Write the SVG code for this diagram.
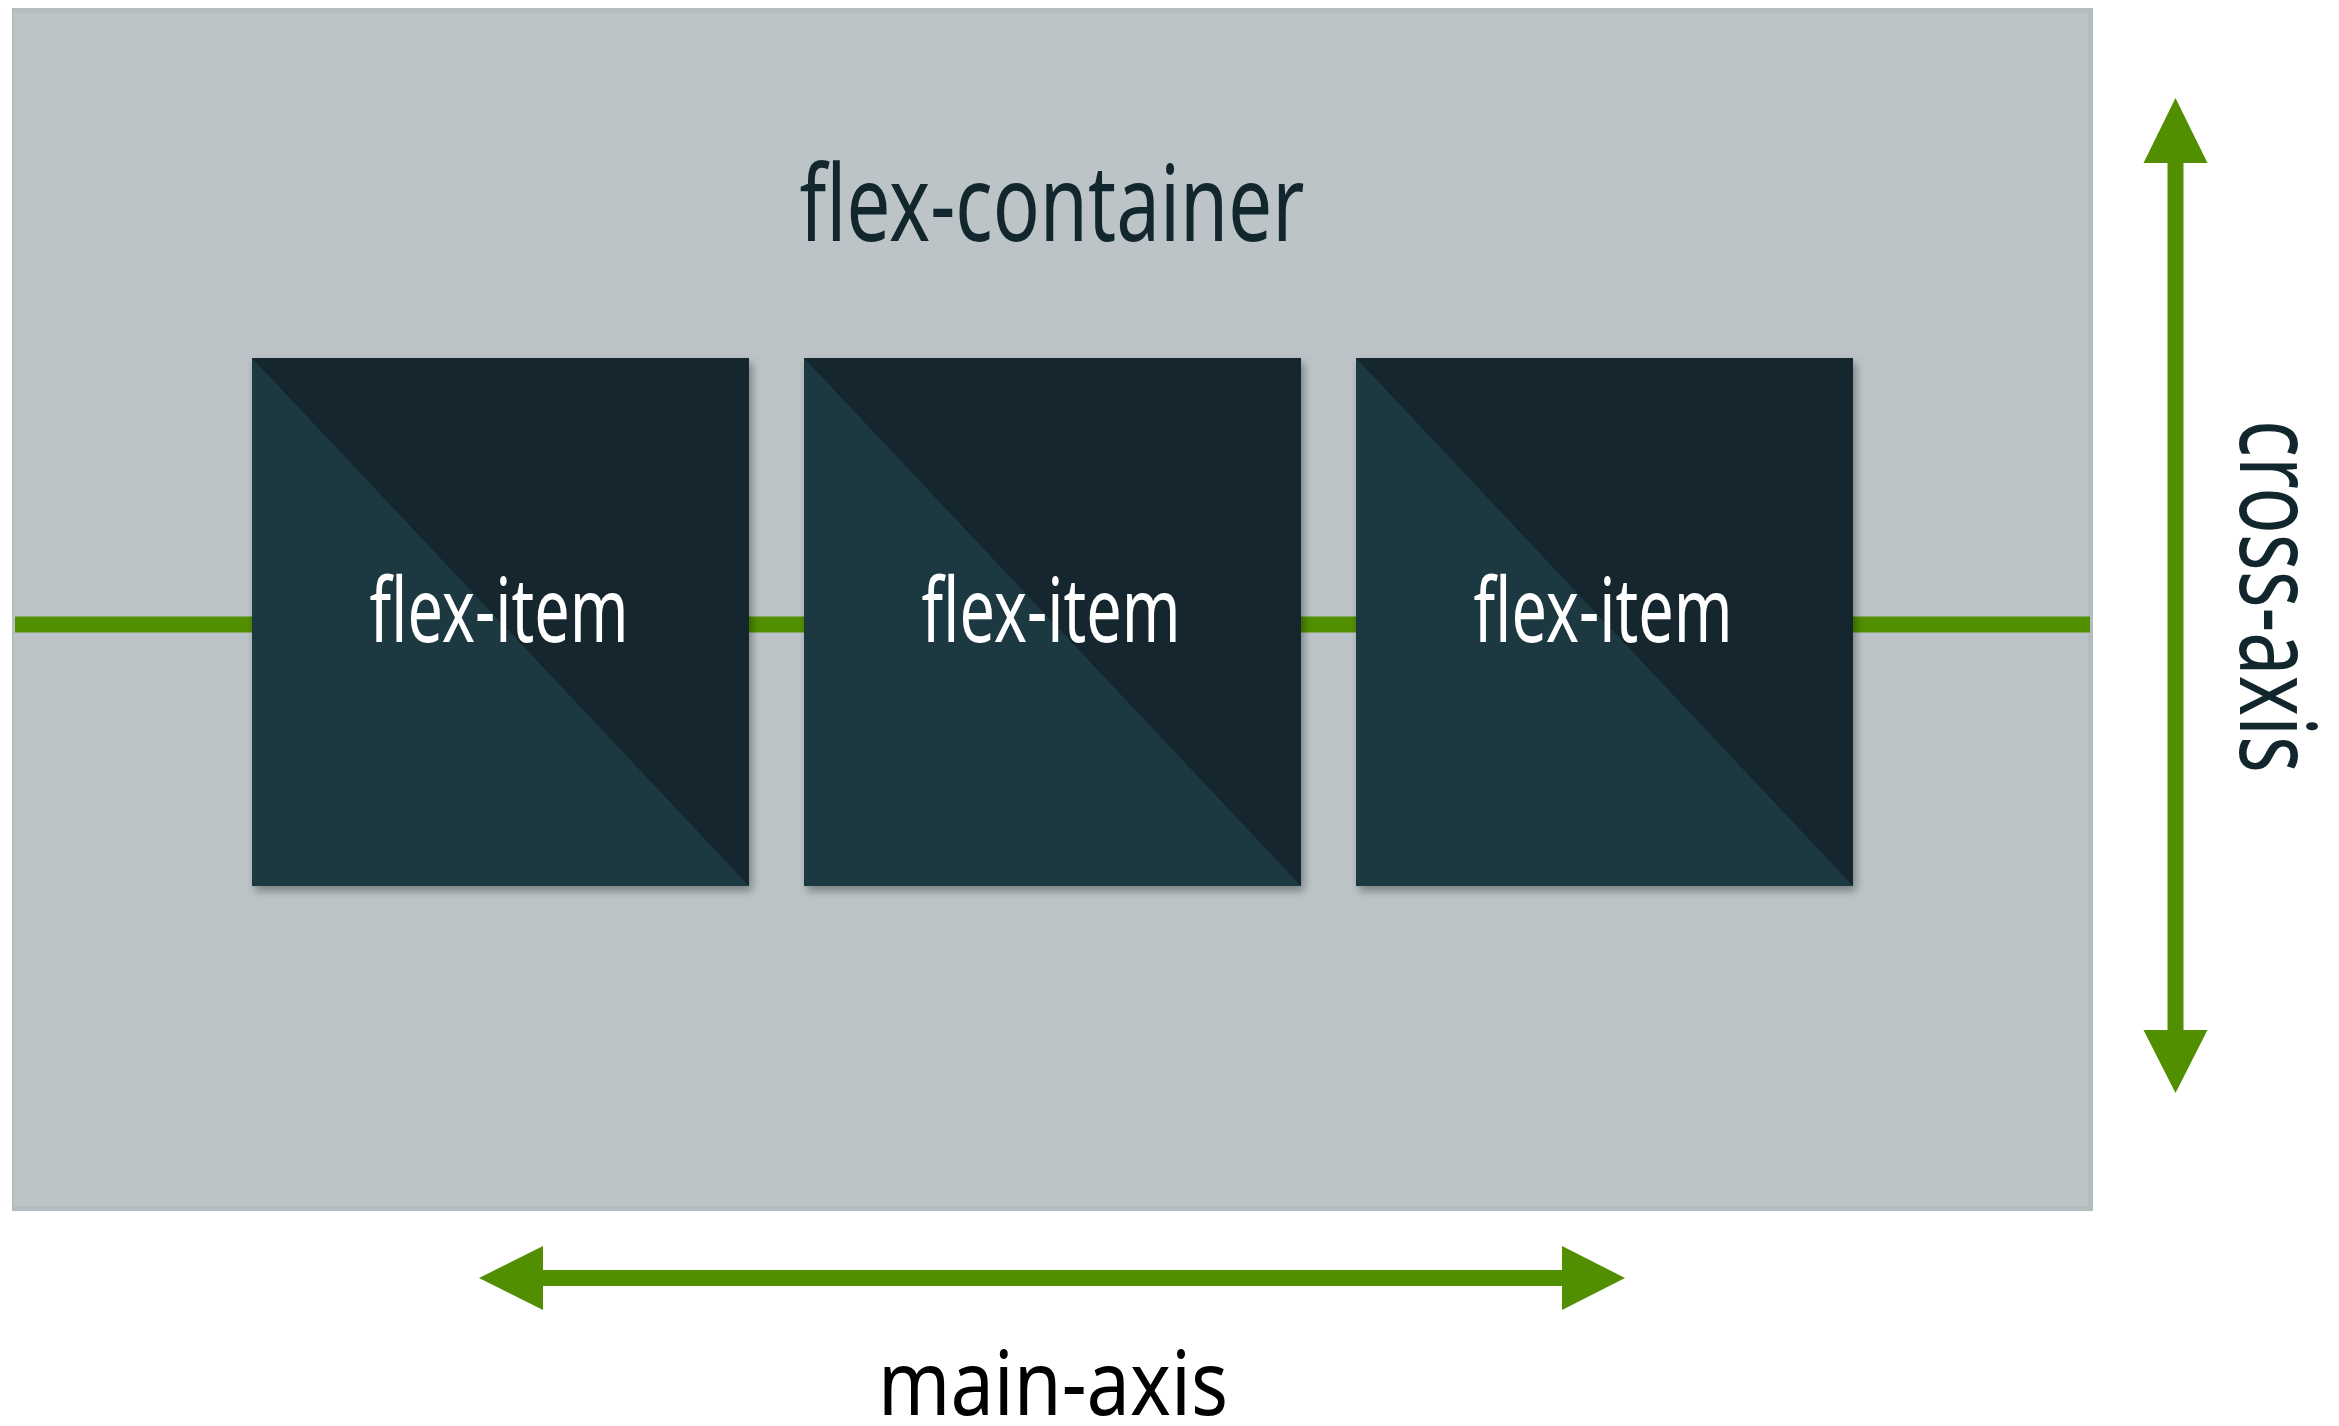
<svg xmlns="http://www.w3.org/2000/svg" width="2339" height="1426" viewBox="0 0 2339 1426">
  <style>
    .lbl { font-family: "Noto Sans", "Open Sans", "DejaVu Sans", sans-serif; }
    .dark { fill: #12272d; }
    .white { fill: #ffffff; }
    .axis { stroke: #518f00; stroke-width: 16; fill: none; }
    .head { fill: #518f00; }
    .lightTri { fill: #1e3941; }
    .darkSq { fill: #12272d; }
  </style>
  <defs>
    <filter id="shadow" x="-10%" y="-10%" width="125%" height="125%">
      <feDropShadow dx="3" dy="5" stdDeviation="4" flood-color="#000" flood-opacity="0.35"/>
    </filter>
  </defs>
  <rect x="0" y="0" width="2339" height="1426" fill="#ffffff"/>

  <g id="flex-container">
    <rect x="12" y="8" width="2081" height="1203" fill="#b5bcbf"/>
    <rect x="14" y="13" width="2074" height="1193" fill="#bcc4c7"/>
    <text class="lbl dark" x="1052" y="241" font-size="106" text-anchor="middle" textLength="505" lengthAdjust="spacingAndGlyphs">flex-container</text>
  </g>

  <g id="connectors">
    <line class="axis" x1="15" y1="624.5" x2="2090" y2="624.5"/>
    <g id="main-axis-arrow">
      <line class="axis" x1="540" y1="1278" x2="1565" y2="1278"/>
      <polygon class="head" points="479,1278 543,1246 543,1310"/>
      <polygon class="head" points="1625,1278 1562,1246 1562,1310"/>
    </g>
    <g id="cross-axis-arrow">
      <line class="axis" x1="2175.5" y1="160" x2="2175.5" y2="1033"/>
      <polygon class="head" points="2175.5,98 2143.5,163 2207.5,163"/>
      <polygon class="head" points="2175.5,1093 2143.5,1030 2207.5,1030"/>
    </g>
  </g>

  <g id="item-1">
    <g filter="url(#shadow)">
      <rect class="darkSq" x="252" y="358" width="497" height="528"/>
      <polygon class="lightTri" points="252,358 749,886 252,886"/>
    </g>
    <text class="lbl white" x="499" y="642" font-size="90" text-anchor="middle" textLength="259" lengthAdjust="spacingAndGlyphs">flex-item</text>
  </g>
  <g id="item-2">
    <g filter="url(#shadow)">
      <rect class="darkSq" x="804" y="358" width="497" height="528"/>
      <polygon class="lightTri" points="804,358 1301,886 804,886"/>
    </g>
    <text class="lbl white" x="1051" y="642" font-size="90" text-anchor="middle" textLength="259" lengthAdjust="spacingAndGlyphs">flex-item</text>
  </g>
  <g id="item-3">
    <g filter="url(#shadow)">
      <rect class="darkSq" x="1356" y="358" width="497" height="528"/>
      <polygon class="lightTri" points="1356,358 1853,886 1356,886"/>
    </g>
    <text class="lbl white" x="1603" y="642" font-size="90" text-anchor="middle" textLength="259" lengthAdjust="spacingAndGlyphs">flex-item</text>
  </g>

  <g id="main-axis-label">
    <text class="lbl" fill="#000000" x="1053" y="1415" font-size="90" text-anchor="middle" textLength="350" lengthAdjust="spacingAndGlyphs">main-axis</text>
  </g>
  <g id="cross-axis-label">
    <text class="lbl dark" transform="translate(2240,596.5) rotate(90)" x="0" y="0" font-size="106" text-anchor="middle" textLength="353" lengthAdjust="spacingAndGlyphs">cross-axis</text>
  </g>
</svg>
